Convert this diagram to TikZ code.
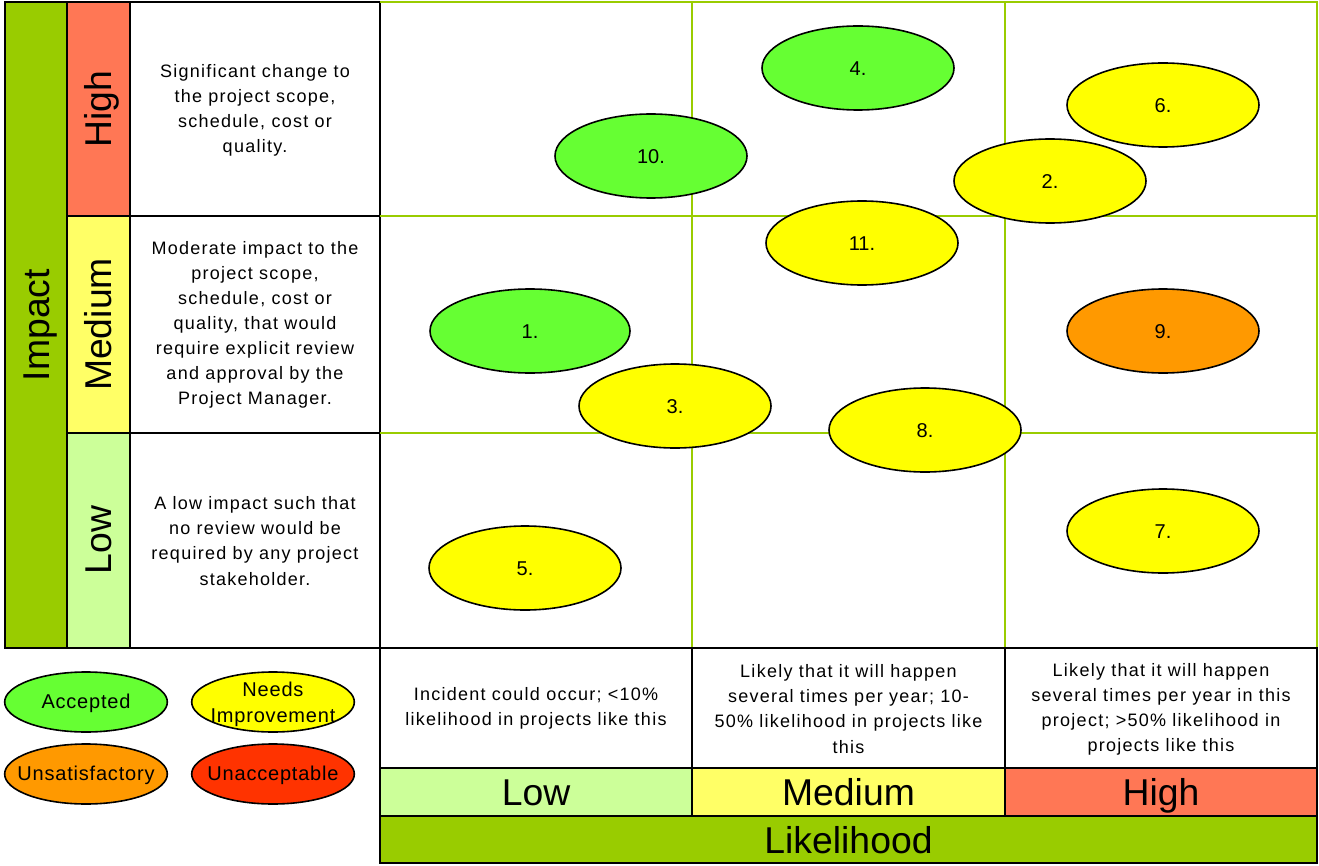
\documentclass[tikz,border=0pt]{standalone}
\usepackage{fontspec}
\setmainfont{Liberation Sans}
\newfontfamily\descfont[LetterSpace=7]{Liberation Sans}
\newfontfamily\legfont[LetterSpace=4]{Liberation Sans}
\usetikzlibrary{shapes.geometric}
\definecolor{axisgreen}{HTML}{99CC00}
\definecolor{hicol}{HTML}{FF7755}
\definecolor{medcol}{HTML}{FFFF66}
\definecolor{locol}{HTML}{CCFF99}
\definecolor{accgreen}{HTML}{66FF33}
\definecolor{needyel}{HTML}{FFFF00}
\definecolor{unsorange}{HTML}{FF9900}
\definecolor{unared}{HTML}{FF3300}
\tikzset{
  cellbox/.style={draw=black,line width=2pt},
  gridline/.style={draw=axisgreen,line width=1.8pt},
  desc/.style={align=center,font=\descfont\fontsize{13.5}{18.8}\selectfont,inner sep=0pt},
  bigtxt/.style={font=\fontsize{28}{32}\selectfont,inner sep=0pt,text height=20pt,text depth=0pt},
  risk/.style={ellipse,draw=black,line width=1.2pt,minimum width=144pt,minimum height=63pt,inner sep=0pt,font=\fontsize{15}{18}\selectfont,text height=10.7pt,text depth=0pt},
  legend/.style={ellipse,draw=black,line width=1.2pt,minimum width=122pt,minimum height=45pt,inner sep=0pt},
  legtxt/.style={inner sep=0pt,align=center,font=\legfont\fontsize{15}{19.5}\selectfont},
}
\begin{document}
\begin{tikzpicture}[x=0.75pt,y=-0.75pt]
\useasboundingbox (0,0) rectangle (1319,866);
\fill[white] (0,0) rectangle (1319,866);
% left impact axis
\filldraw[fill=axisgreen,cellbox] (5,2) rectangle (67,648);
\filldraw[fill=hicol,cellbox] (67,2) rectangle (130,216);
\filldraw[fill=medcol,cellbox] (67,216) rectangle (130,433);
\filldraw[fill=locol,cellbox] (67,433) rectangle (130,648);
\draw[cellbox] (130,2) rectangle (380,216);
\draw[cellbox] (130,216) rectangle (380,433);
\draw[cellbox] (130,433) rectangle (380,648);
\node[bigtxt,rotate=90] (impact) at (36,325) {Impact};
\node[bigtxt,rotate=90] (ihigh) at (98.5,109) {High};
\node[bigtxt,rotate=90] (imed) at (98.5,324.5) {Medium};
\node[bigtxt,rotate=90] (ilow) at (98.5,540) {Low};
\node[desc] (dhigh) at (255,110) {Significant change to\\the project scope,\\schedule, cost or\\quality.};
\node[desc] (dmed) at (255,325) {Moderate impact to the\\project scope,\\schedule, cost or\\quality, that would\\require explicit review\\and approval by the\\Project Manager.};
\node[desc] (dlow) at (255,541) {A low impact such that\\no review would be\\required by any project\\stakeholder.};
% grid
\draw[gridline] (380,2) -- (1317,2) -- (1317,648);
\draw[gridline] (692,2) -- (692,648);
\draw[gridline] (1005,2) -- (1005,648);
\draw[gridline] (380,216) -- (1317,216);
\draw[gridline] (380,433) -- (1317,433);
% bottom likelihood table
\draw[cellbox] (380,648) rectangle (692,768);
\draw[cellbox] (692,648) rectangle (1005,768);
\draw[cellbox] (1005,648) rectangle (1317,768);
\filldraw[fill=locol,cellbox] (380,768) rectangle (692,816);
\filldraw[fill=medcol,cellbox] (692,768) rectangle (1005,816);
\filldraw[fill=hicol,cellbox] (1005,768) rectangle (1317,816);
\filldraw[fill=axisgreen,cellbox] (380,816) rectangle (1317,863);
\node[desc] (llow) at (536,708) {Incident could occur; <10\%\\likelihood in projects like this};
\node[desc] (lmed) at (848.5,709) {Likely that it will happen\\several times per year; 10-\\50\% likelihood in projects like\\this};
\node[desc] (lhigh) at (1161,709) {Likely that it will happen\\several times per year in this\\project; >50\% likelihood in\\projects like this};
\node[bigtxt] (blow) at (536,792) {Low};
\node[bigtxt] (bmed) at (848.5,792) {Medium};
\node[bigtxt] (bhigh) at (1161,792) {High};
\node[bigtxt] (likelihood) at (848.5,840) {Likelihood};
% risks
\node[risk,fill=accgreen] (r4) at (858,68) {4.};
\node[risk,fill=accgreen] (r10) at (651,156) {10.};
\node[risk,fill=needyel] (r6) at (1163,105) {6.};
\node[risk,fill=needyel] (r2) at (1050,181) {2.};
\node[risk,fill=needyel] (r11) at (862,243) {11.};
\node[risk,fill=accgreen,minimum width=150pt] (r1) at (530,331) {1.};
\node[risk,fill=unsorange] (r9) at (1163,331) {9.};
\node[risk,fill=needyel] (r3) at (675,406) {3.};
\node[risk,fill=needyel] (r8) at (925,430) {8.};
\node[risk,fill=needyel] (r7) at (1163,531) {7.};
\node[risk,fill=needyel] (r5) at (525,568) {5.};
% legend
\node[legend,fill=accgreen] (lacc) at (86,702) {};
\node[legend,fill=needyel] (lneed) at (273,702) {};
\node[legend,fill=unsorange] (luns) at (86,774) {};
\node[legend,fill=unared] (luna) at (273,774) {};
\node[legtxt] (tacc) at ([yshift=-1pt]lacc.center) {Accepted};
\node[legtxt] (tneed) at ([yshift=-2pt]lneed.center) {Needs\\Improvement};
\node[legtxt] (tuns) at ([yshift=-1pt]luns.center) {Unsatisfactory};
\node[legtxt] (tuna) at ([yshift=-1pt]luna.center) {Unacceptable};
\end{tikzpicture}
\end{document}
